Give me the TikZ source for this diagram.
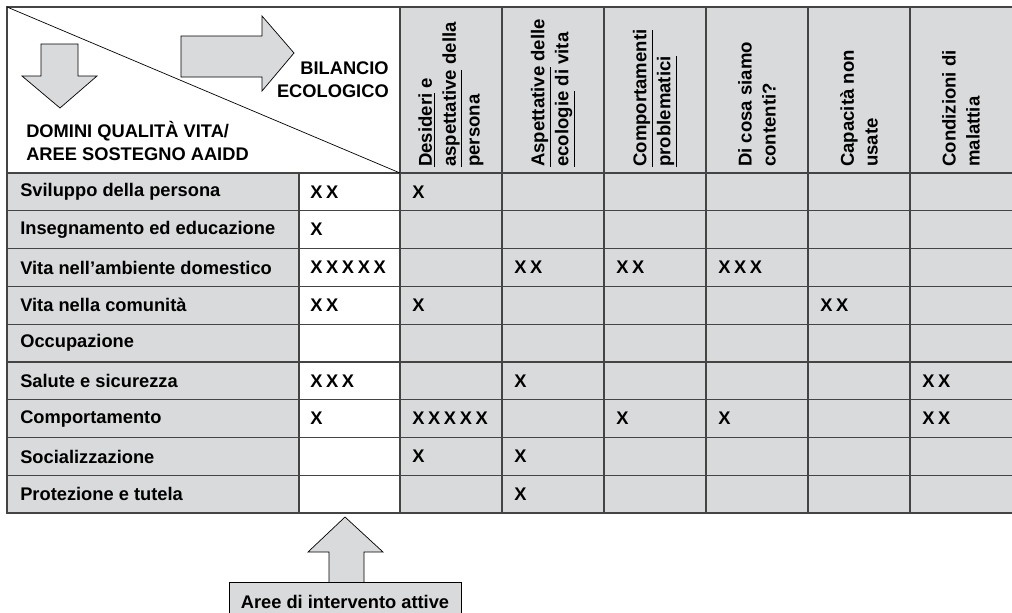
\documentclass[tikz,border=0pt]{standalone}
\usepackage{fontspec}
\setmainfont{Liberation Sans}
\usetikzlibrary{positioning}
\definecolor{cellgray}{RGB}{217,218,220}
\definecolor{gridline}{RGB}{68,68,68}
\newcommand{\crosses}[1]{\foreach \k in {1,...,#1}{X\ifnum\k<#1\relax\kern2.6pt\fi}}

\begin{document}
\begin{tikzpicture}[x=0.025cm, y=-0.025cm,
    rowlabel/.style={anchor=west, inner sep=0pt, font=\fontsize{13}{16.5}\selectfont\bfseries},
    colhead/.style={rotate=90, anchor=west, inner sep=0pt, align=left, font=\fontsize{13.2}{17}\selectfont\bfseries},
    grid/.style={draw=gridline, line width=0.9pt},
    bigarrow/.style={fill=cellgray, draw=black, line width=0.5pt}]

    \useasboundingbox (0,0) rectangle (1012,612);
    \clip (0,0) rectangle (1012,612);

    % cell fills
    \fill[cellgray] (400,7) rectangle (1020,173);
    \fill[cellgray] (7,173) rectangle (299,513);
    \fill[cellgray] (400,173) rectangle (1020,513);

    % grid lines
    \foreach \i in {1,...,8}
        \draw[grid] (7,{173+37.8*\i}) -- (1020,{173+37.8*\i});
    \draw[grid] (299,173) -- (299,513);
    \foreach \x in {400,502,604,706,808,910}
        \draw[grid] (\x,7) -- (\x,513);
    \draw[grid] (7,173) -- (1020,173);
    \draw[grid] (7,7) rectangle (1020,513);
    \draw[line width=0.5pt] (7,7) -- (400,173);

    % corner cell
    \draw[bigarrow] (41,44) -- (78,44) -- (78,76) -- (97,76) -- (60,108) -- (22,76) -- (41,76) -- cycle;
    \draw[bigarrow] (181,36) -- (262,36) -- (262,16) -- (294,53) -- (262,91) -- (262,77) -- (181,77) -- cycle;
    \node[rowlabel, anchor=east, align=right] (bilancio) at (389,80) {BILANCIO\\ECOLOGICO};
    \node[rowlabel, align=left] (domini) at (26,141) {DOMINI QUALITÀ VITA/\\AREE SOSTEGNO AAIDD};

    % column headers
    \node[colhead] (desideri) at (451,167) {\underline{Desideri} e\\\underline{aspettative} della\\persona};
    \node[colhead] (aspettative) at (553,167) {\underline{Aspettative} delle\\\underline{ecologie} di vita};
    \node[colhead] (comportamenti) at (655,167) {\underline{Comportamenti}\\\underline{problematici}};
    \node[colhead] (contenti) at (757,167) {Di cosa siamo\\contenti?};
    \node[colhead] (capacita) at (859,167) {Capacità non\\usate};
    \node[colhead] (malattia) at (961,167) {Condizioni di\\malattia};

    % row labels
    \foreach \t [count=\i] in {Sviluppo della persona, Insegnamento ed educazione,
        Vita nell’ambiente domestico, Vita nella comunità, Occupazione,
        Salute e sicurezza, Comportamento, Socializzazione, Protezione e tutela}
        \node[rowlabel] (row\i) at (20,{173+37.8*(\i-0.5)}) {\t};

    % crosses
    \foreach \r/\x/\n in {1/310/2, 1/412/1, 2/310/1,
        3/310/5, 3/514/2, 3/616/2, 3/718/3,
        4/310/2, 4/412/1, 4/820/2,
        6/310/3, 6/514/1, 6/922/2,
        7/310/1, 7/412/5, 7/616/1, 7/718/1, 7/922/2,
        8/412/1, 8/514/1, 9/514/1}
        \node[rowlabel] (x-\r-\x) at (\x,{173+37.8*(\r-0.5)}) {\crosses{\n}};

    % active areas
    \draw[bigarrow] (329,582) -- (329,552) -- (308,552) -- (345,517) -- (383,552) -- (364,552) -- (364,582);
    \draw[bigarrow] (229,582) rectangle (461,640);
    \node[rowlabel, anchor=center] (attive) at (345,602) {Aree di intervento attive};
\end{tikzpicture}
\end{document}
